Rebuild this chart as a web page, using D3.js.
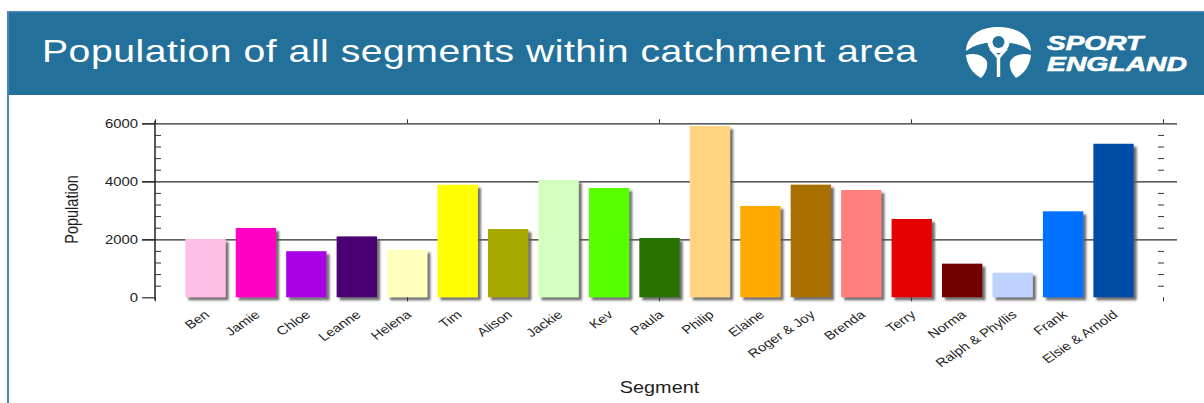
<!DOCTYPE html>
<html>
<head>
<meta charset="utf-8">
<script src="https://cdn.jsdelivr.net/npm/d3@7"></script>
<style>
  html, body { margin: 0; padding: 0; background: #fff; }
  svg { display: block; font-family: "Liberation Sans", Arial, sans-serif; }
</style>
</head>
<body>
<svg id="chart" width="1204" height="403"></svg>
<script>
// ---- data ----
const categories = ["Ben", "Jamie", "Chloe", "Leanne", "Helena", "Tim", "Alison", "Jackie", "Kev", "Paula",
  "Philip", "Elaine", "Roger & Joy", "Brenda", "Terry", "Norma", "Ralph & Phyllis", "Frank", "Elsie & Arnold"];
const population = [2010, 2390, 1590, 2100, 1640, 3880, 2355, 4045, 3770, 2045,
  5905, 3150, 3885, 3700, 2700, 1160, 850, 2965, 5295];
const barColors = ["#FFBEE8", "#FF00C5", "#A900E6", "#4C0073", "#FFFFBE", "#FFFF00", "#A8A800", "#D3FFBE", "#55FF00", "#267300",
  "#FFD37F", "#FFAA00", "#A87000", "#FF7F7F", "#E60000", "#730000", "#BED2FF", "#0070FF", "#004DA8"];
const yTickValues = [0, 2000, 4000, 6000];
const yMinorValues = [400, 800, 1200, 1600, 2400, 2800, 3200, 3600, 4400, 4800, 5200, 5600];
const titleText = "Population of all segments within catchment area";
const xTitle = "Segment";
const yTitle = "Population";

// ---- layout ----
const svg = d3.select("#chart");
const SX = 1.24; // horizontal stretch of the source rendering
const plot = { left: 155, right: 1164, top: 123.3, bottom: 297.3 };

// defs
const defs = svg.append("defs");
const f = defs.append("filter").attr("id", "shadow").attr("x", "-10%").attr("y", "-10%").attr("width", "130%").attr("height", "130%");
f.append("feDropShadow").attr("dx", 3).attr("dy", 3).attr("stdDeviation", 0.9)
  .attr("flood-color", "#555").attr("flood-opacity", 0.85);
const f2 = defs.append("filter").attr("id", "lineshadow").attr("x", "-5%").attr("y", "-50%").attr("width", "110%").attr("height", "300%");
f2.append("feDropShadow").attr("dx", 2.5).attr("dy", 2.5).attr("stdDeviation", 0.8)
  .attr("flood-color", "#666").attr("flood-opacity", 0.8);

// header
svg.append("rect").attr("x", 8).attr("y", 11).attr("width", 1196).attr("height", 84).attr("fill", "#23719A");
svg.append("rect").attr("x", 8).attr("y", 11).attr("width", 1196).attr("height", 1.5).attr("fill", "#4E86C4");
svg.append("rect").attr("x", 7).attr("y", 11).attr("width", 2).attr("height", 392).attr("fill", "#4F81BD");

svg.append("text")
  .attr("transform", `translate(42,62) scale(${SX},1)`)
  .attr("font-size", 31.6).attr("fill", "#fff")
  .attr("textLength", 875 / SX).attr("lengthAdjust", "spacing")
  .text(titleText);

// logo
const logo = svg.append("g").attr("fill", "#fff");
logo.append("path").attr("d", "M966,51 C967,33 983,27 998.5,27 C1014,27 1030,33 1031,51 C1023,45 1012,42 998.5,42 C985,42 974,45 966,51 Z");
logo.append("circle").attr("cx", 998.5).attr("cy", 42).attr("r", 11);
logo.append("circle").attr("cx", 998.5).attr("cy", 42).attr("r", 6).attr("fill", "#23719A");
logo.append("path").attr("d", "M989,49 L996.8,58 L996.8,77 L1000.2,77 L1000.2,58 L1008,49 L1004.5,49 L998.5,55 L992.5,49 Z");
logo.append("path").attr("d", "M966,55 C975,52 985,56 987,62 C988,68 985,74 981,78 C972,73 967,65 966,55 Z");
logo.append("path").attr("d", "M1031,55 C1022,52 1012,56 1010,62 C1009,68 1012,74 1016,78 C1025,73 1030,65 1031,55 Z");
svg.append("text").attr("x", 1047).attr("y", 50).attr("font-size", 19.5).attr("font-weight", "bold")
  .attr("font-style", "italic").attr("fill", "#fff").attr("stroke", "#fff").attr("stroke-width", 0.6)
  .attr("textLength", 96).attr("lengthAdjust", "spacingAndGlyphs").text("SPORT");
svg.append("text").attr("x", 1047).attr("y", 71).attr("font-size", 19.5).attr("font-weight", "bold")
  .attr("font-style", "italic").attr("fill", "#fff").attr("stroke", "#fff").attr("stroke-width", 0.6)
  .attr("textLength", 140).attr("lengthAdjust", "spacingAndGlyphs").text("ENGLAND");

// scales
const x = d3.scaleBand().domain(categories).range([plot.left, plot.right]).paddingInner(0.2).paddingOuter(0.6);
const y = d3.scaleLinear().domain([0, 6000]).range([plot.bottom, plot.top]);
const frameX = d3.scaleLinear().domain([0, 4]).range([plot.left, plot.right - 1]);

// gridlines (2000, 4000, 6000), extending beyond both axes
const grid = svg.append("g").attr("transform", `translate(${plot.left - 13},0)`)
  .call(d3.axisRight(y).tickValues(yTickValues.filter(v => v > 0)).tickSize(plot.right + 13 - plot.left + 13).tickFormat(""));
grid.select(".domain").remove();
grid.selectAll("line").attr("stroke", "#2a2a2a").attr("stroke-width", 1.2);

// bars with shadows
svg.append("g").selectAll("rect").data(categories).join("rect")
  .attr("x", d => x(d))
  .attr("y", (d, i) => y(population[i]))
  .attr("width", x.bandwidth())
  .attr("height", (d, i) => y(0) - y(population[i]))
  .attr("fill", (d, i) => barColors[i])
  .attr("filter", "url(#shadow)");

// bottom axis line (shadowed) + right axis line (shadowed)
svg.append("line").attr("x1", plot.left).attr("x2", plot.right).attr("y1", y(0)).attr("y2", y(0))
  .attr("stroke", "#222").attr("stroke-width", 1.5).attr("filter", "url(#lineshadow)");
svg.append("line").attr("x1", plot.right).attr("x2", plot.right).attr("y1", plot.top - 3).attr("y2", plot.bottom + 3)
  .attr("stroke", "#222").attr("stroke-width", 1.5).attr("filter", "url(#lineshadow)");

// left axis: labels + outside ticks
const yAxis = svg.append("g").attr("transform", `translate(${plot.left},0)`)
  .call(d3.axisLeft(y).tickValues(yTickValues).tickSize(13).tickFormat(""));
yAxis.select(".domain").remove();
yAxis.selectAll("line").attr("stroke", "#2a2a2a").attr("stroke-width", 1.2);
svg.append("line").attr("x1", plot.left).attr("x2", plot.left).attr("y1", plot.top - 2.5).attr("y2", plot.bottom + 3)
  .attr("stroke", "#222").attr("stroke-width", 1.5);

svg.append("g").selectAll("text").data(yTickValues).join("text")
  .attr("transform", d => `translate(138,${y(d) + 4.3}) scale(${SX},1)`)
  .attr("text-anchor", "end").attr("font-size", 12).attr("fill", "#1e1e1e")
  .text(d => d3.format("d")(d));

// minor ticks inside left and right axes
const minorL = svg.append("g").attr("transform", `translate(${plot.left},0)`)
  .call(d3.axisRight(y).tickValues(yMinorValues).tickSize(6).tickFormat(""));
minorL.select(".domain").remove();
minorL.selectAll("line").attr("stroke", "#333");
const minorR = svg.append("g").attr("transform", `translate(${plot.right},0)`)
  .call(d3.axisLeft(y).tickValues(yMinorValues).tickSize(6).tickFormat(""));
minorR.select(".domain").remove();
minorR.selectAll("line").attr("stroke", "#333");

// frame ticks on top and bottom
const frameTicks = [0, 1, 2, 3, 4];
const topAx = svg.append("g").attr("transform", `translate(0,${plot.top})`)
  .call(d3.axisTop(frameX).tickValues(frameTicks).tickSize(4).tickFormat(""));
topAx.select(".domain").remove();
topAx.selectAll("line").attr("stroke", "#333");
const botAx = svg.append("g").attr("transform", `translate(0,${plot.bottom})`)
  .call(d3.axisBottom(frameX).tickValues(frameTicks).tickSize(4).tickFormat(""));
botAx.select(".domain").remove();
botAx.selectAll("line").attr("stroke", "#333");

// category labels
svg.append("g").selectAll("text").data(categories).join("text")
  .attr("transform", d => `translate(${x(d) + x.bandwidth() / 2 + 5},316) scale(${SX},1) rotate(-40)`)
  .attr("text-anchor", "end").attr("font-size", 12).attr("fill", "#1e1e1e")
  .text(d => d);

// axis titles
svg.append("text").attr("transform", `translate(659.5,393) scale(${SX},1)`)
  .attr("text-anchor", "middle").attr("font-size", 16).attr("fill", "#1e1e1e").text(xTitle);
svg.append("text").attr("transform", `translate(78,209.5) scale(${SX},1) rotate(-90)`)
  .attr("text-anchor", "middle").attr("font-size", 14.5).attr("fill", "#1e1e1e").text(yTitle);
</script>
</body>
</html>
